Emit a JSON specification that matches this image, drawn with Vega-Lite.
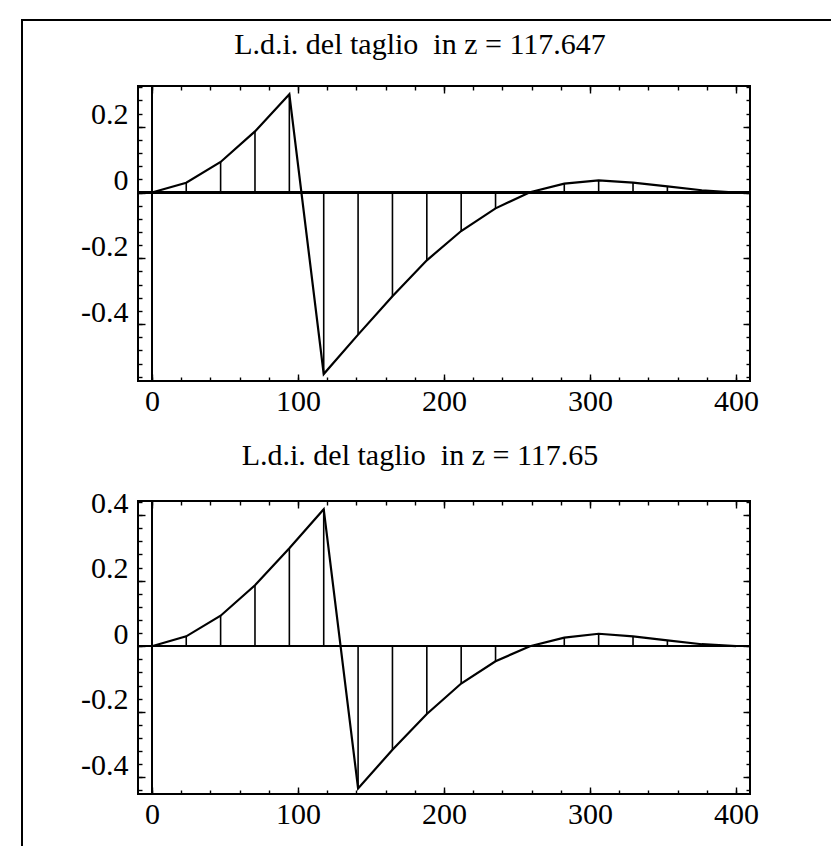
{
  "$schema": "https://vega.github.io/schema/vega-lite/v6.json",
  "padding": {"left": 21, "top": 19, "right": 0, "bottom": 0},
  "background": "white",
  "config": {
    "font": "Liberation Serif",
    "view": {"stroke": "black", "strokeWidth": 2},
    "axis": {"domain": false, "grid": false, "tickColor": "black", "tickWidth": 1.4, "labelColor": "black", "labelFont": "Liberation Serif", "labelFontSize": 30, "labelFlush": false, "labelOverlap": false, "title": null},
    "title": {"font": "Liberation Serif", "fontSize": 30, "fontWeight": "normal", "color": "black"}
  },
  "datasets": {
    "top": [
      {"x": 0, "y": 0}, {"x": 23.53, "y": 0.030}, {"x": 47.06, "y": 0.093}, {"x": 70.59, "y": 0.186},
      {"x": 94.12, "y": 0.299}, {"x": 117.65, "y": -0.552}, {"x": 141.18, "y": -0.432}, {"x": 164.71, "y": -0.315},
      {"x": 188.24, "y": -0.206}, {"x": 211.76, "y": -0.117}, {"x": 235.29, "y": -0.048}, {"x": 258.82, "y": 0.001},
      {"x": 282.35, "y": 0.027}, {"x": 305.88, "y": 0.037}, {"x": 329.41, "y": 0.030}, {"x": 352.94, "y": 0.019},
      {"x": 376.47, "y": 0.007}, {"x": 400, "y": 0}
    ],
    "bot": [
      {"x": 0, "y": 0}, {"x": 23.53, "y": 0.030}, {"x": 47.06, "y": 0.093}, {"x": 70.59, "y": 0.186},
      {"x": 94.12, "y": 0.299}, {"x": 117.65, "y": 0.418}, {"x": 141.18, "y": -0.434}, {"x": 164.71, "y": -0.316},
      {"x": 188.24, "y": -0.207}, {"x": 211.76, "y": -0.114}, {"x": 235.29, "y": -0.046}, {"x": 258.82, "y": 0.0},
      {"x": 282.35, "y": 0.026}, {"x": 305.88, "y": 0.038}, {"x": 329.41, "y": 0.030}, {"x": 352.94, "y": 0.018},
      {"x": 376.47, "y": 0.006}, {"x": 400, "y": 0}
    ],
    "one": [{}]
  },
  "spacing": 0,
  "vconcat": [
    {
      "width": 812, "height": 2,
      "view": {"stroke": null},
      "data": {"name": "one"},
      "mark": {"type": "rect", "color": "black"},
      "encoding": {}
    },
    {
      "spacing": 0,
      "hconcat": [
        {
          "width": 2, "height": 825,
          "view": {"stroke": null},
          "data": {"name": "one"},
          "mark": {"type": "rect", "color": "black"},
          "encoding": {}
        },
        {
          "spacing": 7,
          "vconcat": [
            {
              "width": 1, "height": 1,
              "view": {"stroke": null},
              "data": {"name": "one"},
              "mark": {"type": "rect", "opacity": 0},
              "encoding": {}
            },
            {
              "spacing": 23,
              "vconcat": [
                {
                  "width": 612, "height": 295,
                  "title": {"text": "L.d.i. del taglio\u00a0 in z = 117.647", "baseline": "alphabetic", "offset": 1, "dx": -24},
                  "data": {"name": "top"},
                  "layer": [
                    {
                      "mark": {"type": "rule", "color": "black", "strokeWidth": 1.6},
                      "encoding": {
                        "x": {"field": "x", "type": "quantitative", "scale": {"domain": [-9.5, 409.5], "nice": false, "zero": false},
                              "axis": {"orient": "bottom", "values": [0, 100, 200, 300, 400], "tickSize": -7, "labelPadding": 12, "labelDx": 5, "labelExpr": "toString(datum.value)"}},
                        "y": {"field": "y", "type": "quantitative", "scale": {"domain": [-0.573, 0.324], "nice": false, "zero": false},
                              "axis": {"orient": "left", "values": [-0.4, -0.2, 0, 0.2], "tickSize": -7, "labelPadding": 17, "minExtent": 114, "labelBaseline": "alphabetic", "labelOffset": -3, "labelExpr": "toString(round(datum.value*10)/10)"}},
                        "y2": {"datum": 0}
                      }
                    },
                    {
                      "mark": {"type": "line", "color": "black", "strokeWidth": 2.2},
                      "encoding": {
                        "x": {"field": "x", "type": "quantitative", "axis": {"orient": "bottom", "values": [0,20,40,60,80,100,120,140,160,180,200,220,240,260,280,300,320,340,360,380,400], "tickSize": -4, "labels": false}},
                        "y": {"field": "y", "type": "quantitative", "axis": {"orient": "left", "values": [-0.56,-0.52,-0.48,-0.44,-0.4,-0.36,-0.32,-0.28,-0.24,-0.2,-0.16,-0.12,-0.08,-0.04,0,0.04,0.08,0.12,0.16,0.2,0.24,0.28,0.32], "tickSize": -4, "labels": false}}
                      }
                    },
                    {
                      "mark": {"type": "point", "opacity": 0},
                      "encoding": {
                        "x": {"field": "x", "type": "quantitative", "axis": {"orient": "top", "values": [0, 100, 200, 300, 400], "tickSize": -7, "labels": false}},
                        "y": {"field": "y", "type": "quantitative", "axis": {"orient": "right", "values": [-0.4, -0.2, 0, 0.2], "tickSize": -7, "labels": false}}
                      }
                    },
                    {
                      "mark": {"type": "point", "opacity": 0},
                      "encoding": {
                        "x": {"field": "x", "type": "quantitative", "axis": {"orient": "top", "values": [0,20,40,60,80,100,120,140,160,180,200,220,240,260,280,300,320,340,360,380,400], "tickSize": -4, "labels": false}},
                        "y": {"field": "y", "type": "quantitative", "axis": {"orient": "right", "values": [-0.56,-0.52,-0.48,-0.44,-0.4,-0.36,-0.32,-0.28,-0.24,-0.2,-0.16,-0.12,-0.08,-0.04,0,0.04,0.08,0.12,0.16,0.2,0.24,0.28,0.32], "tickSize": -4, "labels": false}}
                      }
                    },
                    {"mark": {"type": "rule", "color": "black", "strokeWidth": 1.8}, "encoding": {"y": {"datum": 0, "axis": null}}},
                    {"mark": {"type": "rule", "color": "black", "strokeWidth": 1.6}, "encoding": {"x": {"datum": 0, "axis": null}}}
                  ],
                  "resolve": {"axis": {"x": "independent", "y": "independent"}}
                },
                {
                  "width": 612, "height": 293,
                  "title": {"text": "L.d.i. del taglio\u00a0 in z = 117.65", "baseline": "alphabetic", "offset": -7, "dx": -24},
                  "data": {"name": "bot"},
                  "layer": [
                    {
                      "mark": {"type": "rule", "color": "black", "strokeWidth": 1.6},
                      "encoding": {
                        "x": {"field": "x", "type": "quantitative", "scale": {"domain": [-9.5, 409.5], "nice": false, "zero": false},
                              "axis": {"orient": "bottom", "values": [0, 100, 200, 300, 400], "tickSize": -7, "labelPadding": 12, "labelDx": 5, "labelExpr": "toString(datum.value)"}},
                        "y": {"field": "y", "type": "quantitative", "scale": {"domain": [-0.451, 0.443], "nice": false, "zero": false},
                              "axis": {"orient": "left", "values": [-0.4, -0.2, 0, 0.2, 0.4], "tickSize": -7, "labelPadding": 17, "minExtent": 114, "labelBaseline": "alphabetic", "labelOffset": -3, "labelExpr": "toString(round(datum.value*10)/10)"}},
                        "y2": {"datum": 0}
                      }
                    },
                    {
                      "mark": {"type": "line", "color": "black", "strokeWidth": 2.2},
                      "encoding": {
                        "x": {"field": "x", "type": "quantitative", "axis": {"orient": "bottom", "values": [0,20,40,60,80,100,120,140,160,180,200,220,240,260,280,300,320,340,360,380,400], "tickSize": -4, "labels": false}},
                        "y": {"field": "y", "type": "quantitative", "axis": {"orient": "left", "values": [-0.44,-0.4,-0.36,-0.32,-0.28,-0.24,-0.2,-0.16,-0.12,-0.08,-0.04,0,0.04,0.08,0.12,0.16,0.2,0.24,0.28,0.32,0.36,0.4,0.44], "tickSize": -4, "labels": false}}
                      }
                    },
                    {
                      "mark": {"type": "point", "opacity": 0},
                      "encoding": {
                        "x": {"field": "x", "type": "quantitative", "axis": {"orient": "top", "values": [0, 100, 200, 300, 400], "tickSize": -7, "labels": false}},
                        "y": {"field": "y", "type": "quantitative", "axis": {"orient": "right", "values": [-0.4, -0.2, 0, 0.2, 0.4], "tickSize": -7, "labels": false}}
                      }
                    },
                    {
                      "mark": {"type": "point", "opacity": 0},
                      "encoding": {
                        "x": {"field": "x", "type": "quantitative", "axis": {"orient": "top", "values": [0,20,40,60,80,100,120,140,160,180,200,220,240,260,280,300,320,340,360,380,400], "tickSize": -4, "labels": false}},
                        "y": {"field": "y", "type": "quantitative", "axis": {"orient": "right", "values": [-0.44,-0.4,-0.36,-0.32,-0.28,-0.24,-0.2,-0.16,-0.12,-0.08,-0.04,0,0.04,0.08,0.12,0.16,0.2,0.24,0.28,0.32,0.36,0.4,0.44], "tickSize": -4, "labels": false}}
                      }
                    },
                    {"mark": {"type": "rule", "color": "black", "strokeWidth": 1.8}, "encoding": {"y": {"datum": 0, "axis": null}}},
                    {"mark": {"type": "rule", "color": "black", "strokeWidth": 1.6}, "encoding": {"x": {"datum": 0, "axis": null}}}
                  ],
                  "resolve": {"axis": {"x": "independent", "y": "independent"}}
                }
              ]
            }
          ]
        }
      ]
    }
  ]
}
